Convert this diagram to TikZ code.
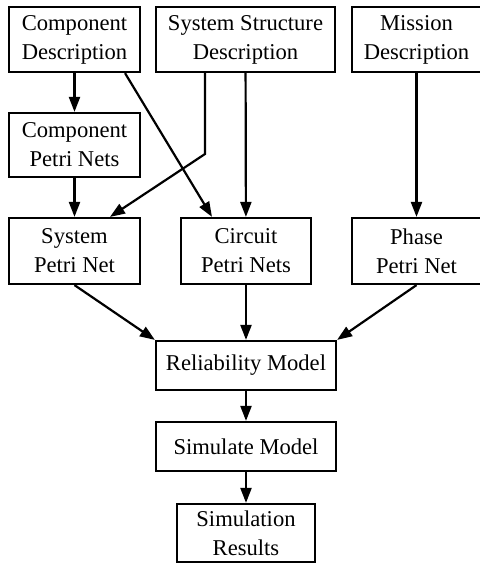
\documentclass[tikz,border=0pt]{standalone}
\usepackage{fontspec}
\setmainfont{Liberation Serif}
\usetikzlibrary{arrows.meta}

\begin{document}
\begin{tikzpicture}[x=0.5pt,y=-0.5pt,
    box/.style={draw,line width=1.1pt,align=center,inner sep=0pt,
      font=\fontsize{11.3}{14.5}\selectfont},
    arr/.style={line width=1.1pt,-{Triangle[length=7.5pt,width=5.5pt]}}]
            \useasboundingbox (0,0) rectangle (479,563);
            \node[box,minimum width=65.5pt,minimum height=32.5pt](1) at (74.5, 39.5) {Component\\Description};
            \node[box,minimum width=89.5pt,minimum height=32.5pt](2) at (245.5, 39.5) {System Structure\\Description};
            \node[box,minimum width=64.5pt,minimum height=32.5pt](3) at (416.5, 39.5) {Mission\\Description};
            \node[box,minimum width=65.5pt,minimum height=32pt](4) at (74.5, 145) {Component\\Petri Nets};
            \path[arr] (1) edge (4);
            \node[box,minimum width=65.5pt,minimum height=33pt](5) at (74.5, 251) {System\\Petri Net};
            \node[box,minimum width=65pt,minimum height=33pt](6) at (246, 251) {Circuit\\Petri Nets};
            \node[box,minimum width=64.5pt,minimum height=33pt](7) at (416.5, 251) {Phase\\Petri Net};
            \coordinate(a) at (205, 154);
            \coordinate(b) at (110, 0);
            \coordinate(c) at (125, 0);
            \coordinate(d) at (212, 0);
            \path[arr] (4) edge (5) (2) edge (6) (3) edge (7);
            \draw[arr] (a |- 2.south) -- (a) -- (b |- 5.north);
            \path[arr] (c |- 1.south) edge (d |- 6.north);
            \node[box,minimum width=90pt,minimum height=24.5pt](8) at (246, 365.5) {Reliability Model};
            \path[arr] (5.south) edge (8.north west) (6) edge (8) (7.south) edge (8.north east);
            \node[box,minimum width=90pt,minimum height=24.5pt](9) at (246, 446.5) {Simulate Model};
            \node[box,minimum width=69pt,minimum height=29pt](10) at (246, 533) {Simulation\\Results};
            \path[arr] (8) edge (9) (9) edge (10);
        \end{tikzpicture}
\end{document}
